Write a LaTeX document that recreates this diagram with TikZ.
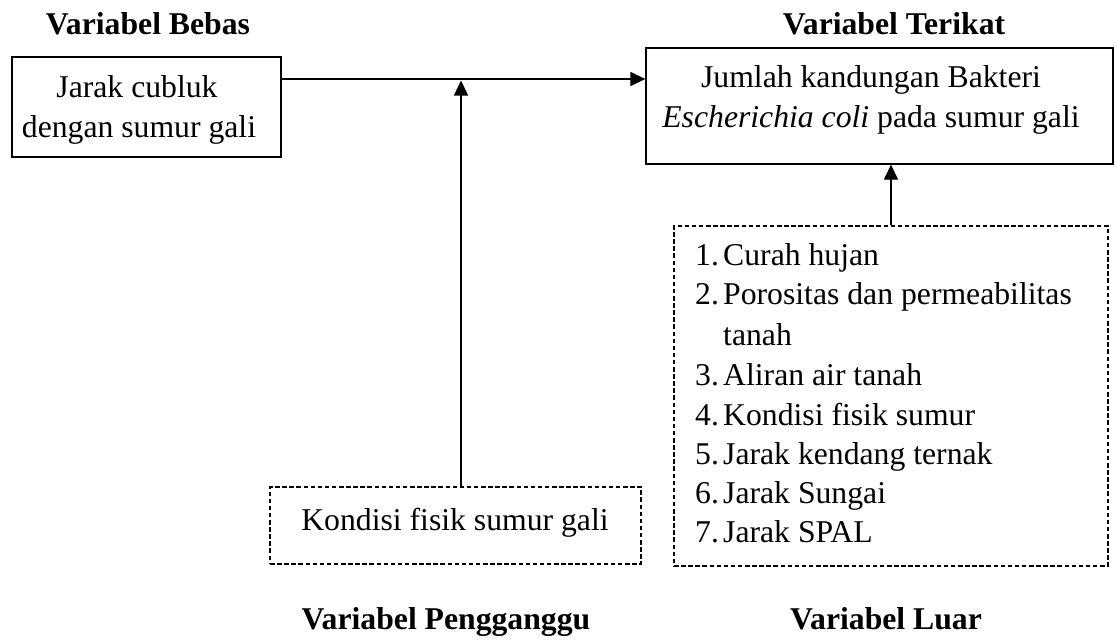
\documentclass[tikz,border=0pt]{standalone}
\usepackage{fontspec}
\setmainfont{Liberation Serif}
\usetikzlibrary{arrows.meta}
\tikzset{
  box/.style={draw=black, line width=1.3pt, inner sep=0pt},
  dbox/.style={draw=black, line width=1.3pt, dash pattern=on 4.5pt off 2.6pt, inner sep=0pt},
  txt/.style={inner sep=0pt, anchor=base, font=\fontsize{31.7}{39.6}\selectfont},
  txtl/.style={inner sep=0pt, anchor=base west, font=\fontsize{31.7}{39.6}\selectfont},
  ttl/.style={inner sep=0pt, anchor=base, font=\fontsize{31.7}{39.6}\selectfont\bfseries},
  arr/.style={line width=1.3pt, -{Triangle[length=15pt,width=14pt]}},
  lin/.style={line width=1.3pt}
}
\begin{document}
\begin{tikzpicture}[x=1pt,y=-1pt]
\useasboundingbox (0,0) rectangle (1115,640);
% titles
\node[ttl] (tbebas) at (148,34) {Variabel Bebas};
\node[ttl] (tterikat) at (894,34) {Variabel Terikat};
\node[ttl] (tpeng) at (446,629) {Variabel Pengganggu};
\node[ttl] (tluar) at (886,629) {Variabel Luar};
% boxes
\node[box, minimum width=269pt, minimum height=100pt] (bebas) at (146.5,107) {};
\node[box, minimum width=467pt, minimum height=116pt] (terikat) at (879.5,106) {};
\node[dbox, minimum width=371pt, minimum height=77pt] (peng) at (455.5,525.5) {};
\node[dbox, minimum width=434pt, minimum height=340pt] (luar) at (891,396) {};
% box texts
\node[txt] (b1) at (137,97) {Jarak cubluk};
\node[txt] (b2) at (139,137) {dengan sumur gali};
\node[txt] (t1) at (871,87) {Jumlah kandungan Bakteri};
\node[txt] (t2) at (871,127) {\textit{Escherichia coli} pada sumur gali};
\node[txt] (p1) at (455,530) {Kondisi fisik sumur gali};
% list
\node[txtl] (n1) at (695,265) {1.};
\node[txtl] (l1) at (723,265) {Curah hujan};
\node[txtl] (n2) at (695,304) {2.};
\node[txtl] (l2) at (723,304) {Porositas dan permeabilitas};
\node[txtl] (l2b) at (723,345) {tanah};
\node[txtl] (n3) at (695,385) {3.};
\node[txtl] (l3) at (723,385) {Aliran air tanah};
\node[txtl] (n4) at (695,425) {4.};
\node[txtl] (l4) at (723,425) {Kondisi fisik sumur};
\node[txtl] (n5) at (695,464) {5.};
\node[txtl] (l5) at (723,464) {Jarak kendang ternak};
\node[txtl] (n6) at (695,503) {6.};
\node[txtl] (l6) at (723,503) {Jarak Sungai};
\node[txtl] (n7) at (695,542) {7.};
\node[txtl] (l7) at (723,542) {Jarak SPAL};
% connectors
\coordinate (h) at (461,79);
\coordinate (v) at (461,80.5);
\draw[arr] (bebas.east |- h) -- (terikat.west |- h);
\draw[arr] (peng.north -| v) -- (v);
\draw[arr] (luar.north) -- (luar.north |- terikat.south);
\end{tikzpicture}
\end{document}
